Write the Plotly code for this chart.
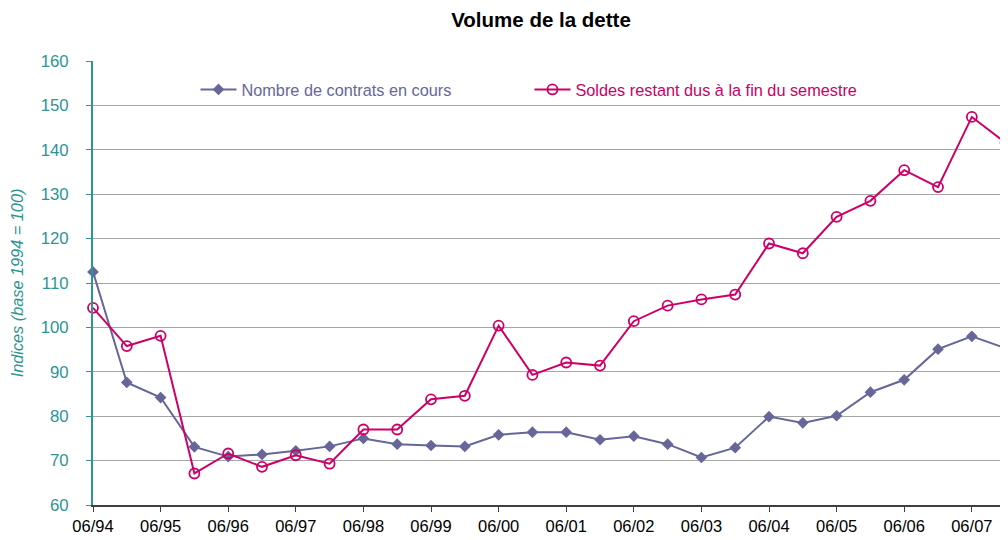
import plotly.graph_objects as go

categories = ["06/94", "12/94", "06/95", "12/95", "06/96", "12/96", "06/97", "12/97",
              "06/98", "12/98", "06/99", "12/99", "06/00", "12/00", "06/01", "12/01",
              "06/02", "12/02", "06/03", "12/03", "06/04", "12/04", "06/05", "12/05",
              "06/06", "12/06", "06/07", "12/07"]
nombre_contrats = [112.5, 87.6, 84.2, 73.1, 70.9, 71.4, 72.2, 73.2,
                   75.0, 73.7, 73.4, 73.2, 75.8, 76.4, 76.4, 74.7,
                   75.5, 73.7, 70.7, 72.9, 79.9, 78.5, 80.1, 85.4,
                   88.2, 95.1, 98.0, 95.3]
soldes_restant = [104.4, 95.8, 98.1, 67.1, 71.6, 68.6, 71.2, 69.3,
                  77.0, 77.0, 83.8, 84.6, 100.4, 89.3, 92.1, 91.4,
                  101.4, 104.9, 106.3, 107.4, 118.9, 116.7, 124.9, 128.5,
                  135.4, 131.6, 147.4, 141.6]
tick_labels = categories[::2]

BLUE = "#666699"
PINK = "#CC0066"
TEAL = "#2E9494"
FONT = "Arial, Liberation Sans, sans-serif"

x_idx = list(range(len(categories)))

fig = go.Figure()
fig.add_trace(go.Scatter(
    x=x_idx, y=nombre_contrats, mode="lines+markers",
    name="Nombre de contrats en cours",
    line=dict(color=BLUE, width=2),
    marker=dict(symbol="diamond", size=9, color=BLUE),
    cliponaxis=False, legend="legend",
))
fig.add_trace(go.Scatter(
    x=x_idx, y=soldes_restant, mode="lines+markers",
    name="Soldes restant dus à la fin du semestre",
    line=dict(color=PINK, width=2),
    marker=dict(symbol="circle-open", size=10, color=PINK, line=dict(width=1.8, color=PINK)),
    cliponaxis=False, legend="legend2",
))

# page body has an 8px margin, so the figure is offset by 8px
fig.update_layout(
    width=1000, height=532,
    margin=dict(l=85, r=0, t=53, b=35, autoexpand=False),
    paper_bgcolor="white", plot_bgcolor="white",
    font=dict(family=FONT, size=16, color="black"),
    title=dict(text="<b>Volume de la dette</b>", x=0.533, xanchor="center",
               y=1 - 12 / 532, yanchor="middle", font=dict(size=20.5, color="black"),
               automargin=False),
    legend=dict(x=0.112, y=0.935, xanchor="left", yanchor="middle", itemwidth=36,
                font=dict(color=BLUE, size=16.3), bgcolor="rgba(0,0,0,0)"),
    legend2=dict(x=0.477, y=0.935, xanchor="left", yanchor="middle", itemwidth=36,
                 font=dict(color=PINK, size=16.3), bgcolor="rgba(0,0,0,0)"),
    showlegend=True,
)
fig.update_xaxes(
    range=[0, 27.07], tickvals=x_idx[::2], ticktext=tick_labels,
    showgrid=False, zeroline=False, automargin=False,
    showline=True, linecolor="#404040", linewidth=1.5,
    ticks="outside", ticklen=5, tickcolor="#404040",
    tickfont=dict(size=16.5, color="black"),
)
fig.update_yaxes(
    range=[60, 160], dtick=10, automargin=False,
    showgrid=True, gridcolor="#A6A6A6", gridwidth=1, zeroline=False,
    showline=True, linecolor=TEAL, linewidth=2,
    ticks="outside", ticklen=5, tickcolor=TEAL, ticklabelstandoff=14,
    tickfont=dict(size=16.8, color=TEAL),
    title=dict(text="<i>Indices (base 1994 = 100)</i>", font=dict(size=16.3, color=TEAL), standoff=13),
)

fig.write_html("out.html")
